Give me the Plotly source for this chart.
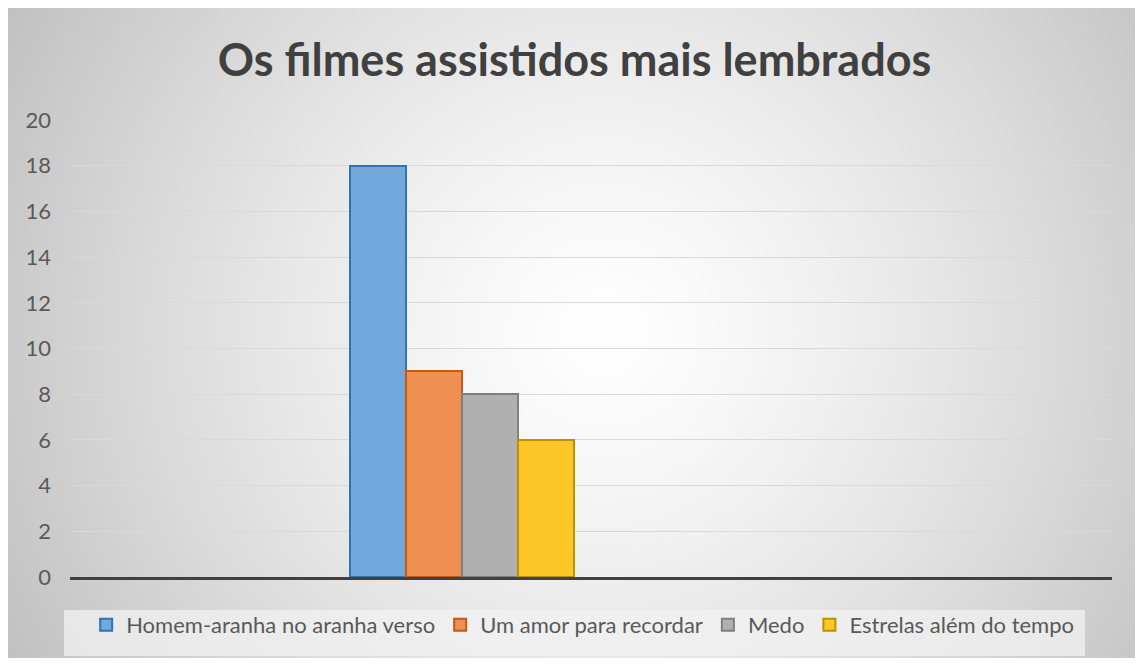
import base64
import struct
import zlib

import numpy as np
import plotly.graph_objects as go

# dados
categoria = ["Filmes"]
filmes = ["Homem-aranha no aranha verso", "Um amor para recordar", "Medo", "Estrelas além do tempo"]
votos = [18, 9, 8, 6]
y_ticks = [0, 2, 4, 6, 8, 10, 12, 14, 16, 18, 20]

cores = ["#72a8db", "#ef8f51", "#b0b0b0", "#fdc827"]
bordas = ["#2e75b6", "#c55a11", "#7f7f7f", "#bf9000"]

W, H = 1127, 650
ML, MR, MT, MB = 62, 23, 112, 81
PW, PH = W - ML - MR, H - MT - MB


def radial_png(w, h, cx, cy, radius, lo=193, p=1.3):
    '''grey radial gradient (white centre), as a data uri'''
    yy, xx = np.mgrid[0:h, 0:w]
    d = np.hypot(xx - cx, yy - cy) / radius
    img = (255 - (255 - lo) * np.clip(d, 0, 1) ** p).astype(np.uint8)
    raw = b"".join(b"\x00" + row.tobytes() for row in img)

    def chunk(tag, data):
        c = struct.pack(">I", len(data)) + tag + data
        return c + struct.pack(">I", zlib.crc32(tag + data) & 0xffffffff)

    png = (b"\x89PNG\r\n\x1a\n"
           + chunk(b"IHDR", struct.pack(">IIBBBBB", w, h, 8, 0, 0, 0, 0))
           + chunk(b"IDAT", zlib.compress(raw, 9))
           + chunk(b"IEND", b""))
    return "data:image/png;base64," + base64.b64encode(png).decode()


fig = go.Figure()
for nome, v, c, b in zip(filmes, votos, cores, bordas):
    fig.add_trace(go.Bar(
        x=categoria,
        y=[v],
        name=nome,
        marker=dict(color=c, line=dict(color=b, width=2)),
    ))

fundo = radial_png(W // 4, H // 4, 592 / 4, 322 / 4, 680 / 4)

fig.update_layout(
    width=W,
    height=H,
    margin=dict(l=ML, r=MR, t=MT, b=MB),
    paper_bgcolor="#d0d0d0",
    plot_bgcolor="rgba(0,0,0,0)",
    barmode="group",
    bargap=0,
    bargroupgap=0,
    font=dict(family="Lato", color="#595959"),
    title=dict(
        text="<b>Os filmes assistidos mais lembrados</b>",
        font=dict(family="Lato", size=45, color="#404040"),
        x=0.5027, xanchor="center",
        y=0.92, yanchor="middle",
    ),
    xaxis=dict(
        type="category",
        range=[-1.75, 2.902],
        showticklabels=False,
        showgrid=False,
        zeroline=False,
        showline=True,
        linecolor="#404040",
        linewidth=3,
    ),
    yaxis=dict(
        range=[0, 20],
        tickvals=y_ticks,
        showgrid=True,
        gridcolor="#d9d9d9",
        gridwidth=1,
        zeroline=False,
        tickfont=dict(size=22, color="#595959"),
        ticklabelstandoff=18,
    ),
    legend=dict(
        orientation="h",
        x=0.492, xanchor="center",
        y=-(625 - 8 - (MT + PH)) / PH,
        yanchor="middle",
        bgcolor="rgba(0,0,0,0)",
        font=dict(size=22, color="#595959"),
    ),
    images=[dict(
        source=fundo,
        xref="paper", yref="paper",
        x=-ML / PW, y=1 + MT / PH,
        sizex=W / PW, sizey=H / PH,
        xanchor="left", yanchor="top",
        sizing="stretch",
        layer="below",
    )],
    shapes=[dict(
        type="rect",
        xref="paper", yref="paper",
        x0=(56 - ML) / PW, x1=(1077 - ML) / PW,
        y0=-(648 - MT - PH) / PH, y1=-(602 - MT - PH) / PH,
        fillcolor="rgba(242,242,242,0.75)",
        line=dict(width=0),
        layer="below",
    )],
    showlegend=True,
)

fig.write_html("out.html")
